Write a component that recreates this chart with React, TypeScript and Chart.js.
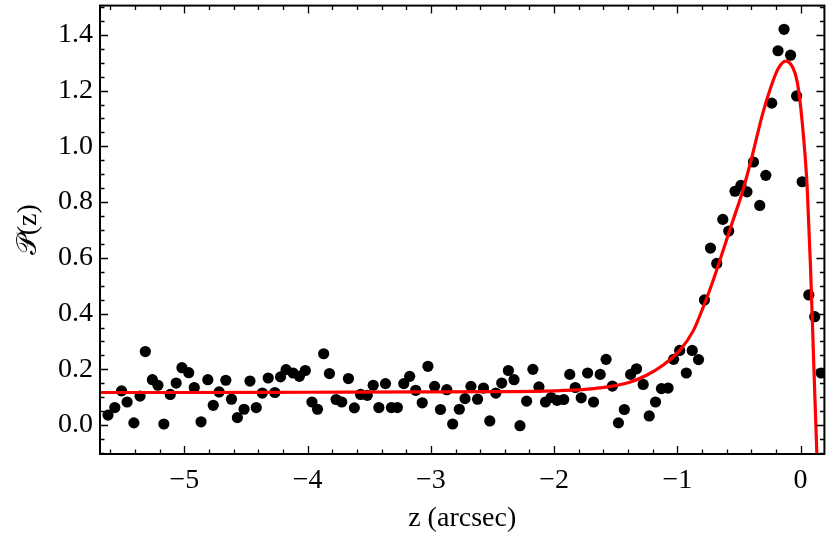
import React, { useEffect, useRef } from "react";
import { Chart, registerables } from "chart.js";

Chart.register(...registerables);

// Measured data points (z in arcsec, P(z))
const zValues = [
  -5.62, -5.565, -5.51, -5.465, -5.41, -5.36, -5.317, -5.26, -5.215, -5.167,
  -5.115, -5.067, -5.02, -4.965, -4.92, -4.865, -4.81, -4.766, -4.718, -4.664,
  -4.618, -4.57, -4.516, -4.468, -4.417, -4.368, -4.32, -4.266, -4.22, -4.175,
  -4.118, -4.067, -4.019, -3.965, -3.92, -3.87, -3.823, -3.769, -3.723, -3.669,
  -3.621, -3.57, -3.516, -3.468, -3.422, -3.368, -3.32, -3.272, -3.22, -3.172,
  -3.123, -3.07, -3.024, -2.97, -2.922, -2.871, -2.823, -2.769, -2.723, -2.675,
  -2.621, -2.573, -2.522, -2.473, -2.425, -2.371, -2.325, -2.277, -2.223, -2.172,
  -2.123, -2.07, -2.024, -1.976, -1.922, -1.873, -1.828, -1.78, -1.728, -1.68,
  -1.626, -1.578, -1.527, -1.478, -1.43, -1.379, -1.331, -1.277, -1.228, -1.177,
  -1.129, -1.075, -1.03, -0.981, -0.927, -0.879, -0.828, -0.78, -0.731, -0.68,
  -0.631, -0.583, -0.532, -0.484, -0.435, -0.382, -0.331, -0.282, -0.234, -0.183,
  -0.134, -0.081, -0.032, 0.013, 0.067, 0.115, 0.167,
];
const pValues = [
  0.036, 0.063, 0.123, 0.083, 0.008, 0.104, 0.264, 0.163, 0.143, 0.004,
  0.11, 0.151, 0.206, 0.188, 0.135, 0.012, 0.163, 0.071, 0.119, 0.161,
  0.093, 0.027, 0.057, 0.158, 0.063, 0.115, 0.169, 0.117, 0.173, 0.199,
  0.187, 0.175, 0.196, 0.083, 0.057, 0.256, 0.185, 0.092, 0.083, 0.167,
  0.062, 0.11, 0.107, 0.143, 0.063, 0.149, 0.063, 0.063, 0.149, 0.175,
  0.125, 0.08, 0.211, 0.139, 0.056, 0.127, 0.004, 0.057, 0.095, 0.139,
  0.093, 0.133, 0.015, 0.115, 0.151, 0.196, 0.163, -0.002, 0.086, 0.2,
  0.137, 0.083, 0.099, 0.089, 0.092, 0.182, 0.135, 0.098, 0.187, 0.083,
  0.182, 0.236, 0.14, 0.008, 0.056, 0.182, 0.202, 0.146, 0.033, 0.083,
  0.131, 0.133, 0.236, 0.268, 0.187, 0.268, 0.235, 0.449, 0.635, 0.58,
  0.738, 0.696, 0.839, 0.86, 0.837, 0.944, 0.788, 0.896, 1.155, 1.343,
  1.42, 1.327, 1.181, 0.873, 0.467, 0.389, 0.187,
];

// Fitted model curve
const fitZ = [
  -5.7, -5.0, -4.0, -3.0, -2.5, -2.0, -1.75, -1.57, -1.38, -1.25,
  -1.12, -0.98, -0.87, -0.79, -0.71, -0.63, -0.55, -0.47, -0.39, -0.31,
  -0.24, -0.18, -0.12, -0.067, -0.027, 0.013, 0.054, 0.081, 0.108, 0.134,
];
const fitP = [
  0.117, 0.117, 0.118, 0.119, 0.12, 0.123, 0.128, 0.137, 0.155, 0.179,
  0.214, 0.268, 0.339, 0.423, 0.518, 0.625, 0.732, 0.839, 0.97, 1.113,
  1.214, 1.28, 1.306, 1.286, 1.232, 1.089, 0.851, 0.565, 0.208, -0.125,
];

const xTickValues = [-5, -4, -3, -2, -1, 0];
const yTickValues = [0, 0.2, 0.4, 0.6, 0.8, 1.0, 1.2, 1.4];

const X_MIN = -5.685;
const X_MAX = 0.1935;
const Y_MIN = -0.1036;
const Y_MAX = 1.505;

const FONT = "'Liberation Serif', 'DejaVu Serif', 'Times New Roman', serif";

const framePlugin = {
  id: "mathFrame",
  afterDraw(chart: any) {
    const { ctx, chartArea: a } = chart;
    const xs = chart.scales.x;
    const ys = chart.scales.y;
    ctx.save();
    ctx.strokeStyle = "#000";
    ctx.lineWidth = 1.3;
    ctx.beginPath();
    for (let i = -29; i <= 1; i++) {
      const v = i * 0.2;
      if (v < X_MIN || v > X_MAX) continue;
      const major = i % 5 === 0;
      const len = major ? 8 : 4.5;
      const px = Math.round(xs.getPixelForValue(v)) + 0.5;
      ctx.moveTo(px, a.bottom);
      ctx.lineTo(px, a.bottom - len);
      ctx.moveTo(px, a.top);
      ctx.lineTo(px, a.top + len);
    }
    for (let i = -2; i <= 30; i++) {
      const v = i * 0.05;
      if (v < Y_MIN || v > Y_MAX) continue;
      const major = i % 4 === 0;
      const len = major ? 8 : 4.5;
      const py = Math.round(ys.getPixelForValue(v)) + 0.5;
      ctx.moveTo(a.left, py);
      ctx.lineTo(a.left + len, py);
      ctx.moveTo(a.right, py);
      ctx.lineTo(a.right - len, py);
    }
    ctx.stroke();
    ctx.lineWidth = 2;
    ctx.strokeRect(a.left, a.top, a.right - a.left, a.bottom - a.top);
    ctx.restore();
  },
};

const zeroPadding = (s: any) => {
  s.paddingTop = 0;
  s.paddingBottom = 0;
  s.paddingLeft = 0;
  s.paddingRight = 0;
};

export default function App() {
  const ref = useRef<HTMLCanvasElement | null>(null);

  useEffect(() => {
    if (!ref.current) return;
    const points = zValues.map((z, i) => ({ x: z, y: pValues[i] }));
    const fit = fitZ.map((z, i) => ({ x: z, y: fitP[i] }));
    const chart = new Chart(ref.current, {
      type: "scatter",
      data: {
        datasets: [
          {
            type: "line",
            label: "fit",
            data: fit,
            borderColor: "#ff0000",
            borderWidth: 3.2,
            pointRadius: 0,
            cubicInterpolationMode: "monotone",
            fill: false,
          } as any,
          {
            label: "data",
            data: points,
            backgroundColor: "#000",
            borderColor: "#000",
            pointRadius: 5.6,
            pointBorderWidth: 0,
          },
        ],
      },
      options: {
        animation: false,
        responsive: false,
        devicePixelRatio: 1,
        layout: { padding: { left: 0, top: 3.7, right: 1, bottom: 0 } },
        plugins: {
          legend: { display: false },
          tooltip: { enabled: false },
        },
        scales: {
          x: {
            type: "linear",
            min: X_MIN,
            max: X_MAX,
            border: { display: false },
            grid: { display: false, drawTicks: false },
            afterBuildTicks: (s: any) => {
              s.ticks = xTickValues.map((v) => ({ value: v }));
            },
            afterFit: (s: any) => {
              s.height = 81;
              zeroPadding(s);
            },
            ticks: {
              padding: 10,
              color: "#000",
              font: { family: FONT, size: 28 },
              maxRotation: 0,
              callback: (v: any) => (v < 0 ? "\u2212" + Math.abs(v) : String(v)),
            },
            title: {
              display: true,
              text: "z (arcsec)",
              color: "#000",
              font: { family: FONT, size: 28 },
              padding: { top: 0, bottom: 0 },
            },
          },
          y: {
            type: "linear",
            min: Y_MIN,
            max: Y_MAX,
            border: { display: false },
            grid: { display: false, drawTicks: false },
            afterBuildTicks: (s: any) => {
              s.ticks = yTickValues.map((v) => ({ value: v }));
            },
            afterFit: (s: any) => {
              s.width = 100;
              zeroPadding(s);
            },
            ticks: {
              padding: 7,
              color: "#000",
              font: { family: FONT, size: 28 },
              callback: (v: any) => Number(v).toFixed(1),
            },
            title: {
              display: true,
              text: "\uD835\uDCAB(z)",
              color: "#000",
              font: { family: FONT, size: 28 },
              padding: { top: 12, bottom: 0 },
            },
          },
        },
      },
      plugins: [framePlugin],
    });
    return () => chart.destroy();
  }, []);

  return (
    <div style={{ position: "fixed", left: 0, top: 0, width: 830, height: 535, background: "#fff" }}>
      <canvas ref={ref} width={830} height={535} style={{ display: "block" }} />
    </div>
  );
}
